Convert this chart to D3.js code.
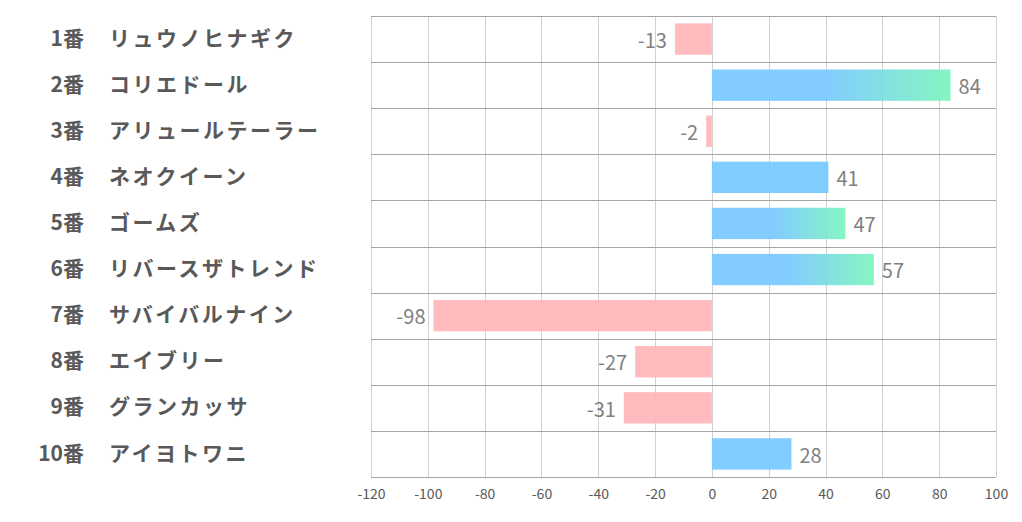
<!DOCTYPE html>
<html>
<head>
<meta charset="utf-8">
<script src="https://cdn.jsdelivr.net/npm/d3@7"></script>
<style>
  html, body { margin: 0; padding: 0; background: #fff; }
  svg { display: block; }
</style>
</head>
<body>
<div id="chart"></div>
<script>
// horse rows, top to bottom
const numbers = ['1番', '2番', '3番', '4番', '5番', '6番', '7番', '8番', '9番', '10番'];
const names = ['リュウノヒナギク', 'コリエドール', 'アリュールテーラー', 'ネオクイーン', 'ゴームズ',
  'リバースザトレンド', 'サバイバルナイン', 'エイブリー', 'グランカッサ', 'アイヨトワニ'];
const values = [-13, 84, -2, 41, 47, 57, -98, -27, -31, 28];
const gradientRows = [false, true, false, false, true, true, false, false, false, false];
const xTicks = [-120, -100, -80, -60, -40, -20, 0, 20, 40, 60, 80, 100];

const W = 1022, H = 522;
const margin = { top: 16, right: 26, bottom: 45, left: 371 };
const innerW = W - margin.left - margin.right;
const innerH = H - margin.top - margin.bottom;

const BLUE = '#79C9FF', GREEN = '#7DF5BC', PINK = '#FFB6B8';

const svg = d3.select('#chart').append('svg')
  .attr('width', W)
  .attr('height', H);

const defs = svg.append('defs');
const grad = defs.append('linearGradient')
  .attr('id', 'posGrad')
  .attr('x1', '0%').attr('x2', '100%')
  .attr('y1', '0%').attr('y2', '0%');
grad.append('stop').attr('offset', '48%').attr('stop-color', BLUE);
grad.append('stop').attr('offset', '100%').attr('stop-color', GREEN);

const x = d3.scaleLinear().domain([-120, 100]).range([0, innerW]);
const y = d3.scaleBand().domain(d3.range(values.length)).range([0, innerH]).paddingInner(0.32).paddingOuter(0.16);
const band = d3.scaleBand().domain(d3.range(values.length)).range([0, innerH]);

const g = svg.append('g').attr('transform', `translate(${margin.left},${margin.top})`);

// vertical grid
g.selectAll('.vgrid')
  .data(xTicks)
  .join('line')
  .attr('class', 'vgrid')
  .attr('x1', d => Math.round(x(d)) + 0.5)
  .attr('x2', d => Math.round(x(d)) + 0.5)
  .attr('y1', 0)
  .attr('y2', innerH)
  .attr('stroke', '#d0d0d0')
  .attr('stroke-width', 1);

// horizontal row separators
g.selectAll('.hgrid')
  .data(d3.range(values.length + 1))
  .join('line')
  .attr('class', 'hgrid')
  .attr('x1', 0)
  .attr('x2', innerW)
  .attr('y1', d => Math.round(d * band.step()) + 0.5)
  .attr('y2', d => Math.round(d * band.step()) + 0.5)
  .attr('stroke', '#a6a6a6')
  .attr('stroke-width', 1);

// bars, slightly see-through so the grid shows
g.selectAll('.bar')
  .data(values)
  .join('rect')
  .attr('class', 'bar')
  .attr('x', d => x(Math.min(0, d)))
  .attr('width', d => Math.abs(x(d) - x(0)))
  .attr('y', (d, i) => y(i))
  .attr('height', y.bandwidth())
  .attr('fill', (d, i) => d < 0 ? PINK : (gradientRows[i] ? 'url(#posGrad)' : BLUE))
  .attr('fill-opacity', 0.93);

// x axis labels
const xAxis = d3.axisBottom(x).tickValues(xTicks).tickSize(0).tickPadding(12).tickFormat(d => String(d));
const ax = g.append('g')
  .attr('transform', `translate(0,${innerH})`)
  .call(xAxis);
ax.select('.domain').remove();
ax.selectAll('text')
  .attr('fill', '#595959')
  .style('font-family', '"Noto Sans CJK JP", "Noto Sans", sans-serif')
  .style('font-size', '14px');

// value labels
g.selectAll('.val')
  .data(values)
  .join('text')
  .attr('class', 'val')
  .attr('x', d => d < 0 ? x(d) - 8 : x(d) + 8)
  .attr('y', (d, i) => y(i) + y.bandwidth() / 2 + 1.5)
  .attr('dy', '0.36em')
  .attr('text-anchor', d => d < 0 ? 'end' : 'start')
  .attr('fill', '#7f7f7f')
  .style('font-family', '"Noto Sans CJK JP", "Noto Sans", sans-serif')
  .style('font-size', '20px')
  .text(d => d);

// category labels on the left
const labelFont = '"Noto Sans CJK JP", sans-serif';
svg.selectAll('.num')
  .data(numbers)
  .join('text')
  .attr('class', 'num')
  .attr('x', 84)
  .attr('y', (d, i) => margin.top + band(i) + band.bandwidth() / 2 - 1)
  .attr('dy', '0.36em')
  .attr('text-anchor', 'end')
  .attr('fill', '#595959')
  .style('font-family', labelFont)
  .style('font-weight', 700)
  .style('font-size', '21px')
  .text(d => d);

svg.selectAll('.name')
  .data(names)
  .join('text')
  .attr('class', 'name')
  .attr('x', 109)
  .attr('y', (d, i) => margin.top + band(i) + band.bandwidth() / 2 - 1)
  .attr('dy', '0.36em')
  .attr('fill', '#595959')
  .style('font-family', labelFont)
  .style('font-weight', 700)
  .style('font-size', '21px')
  .style('letter-spacing', '2.5px')
  .text(d => d);
</script>
</body>
</html>
